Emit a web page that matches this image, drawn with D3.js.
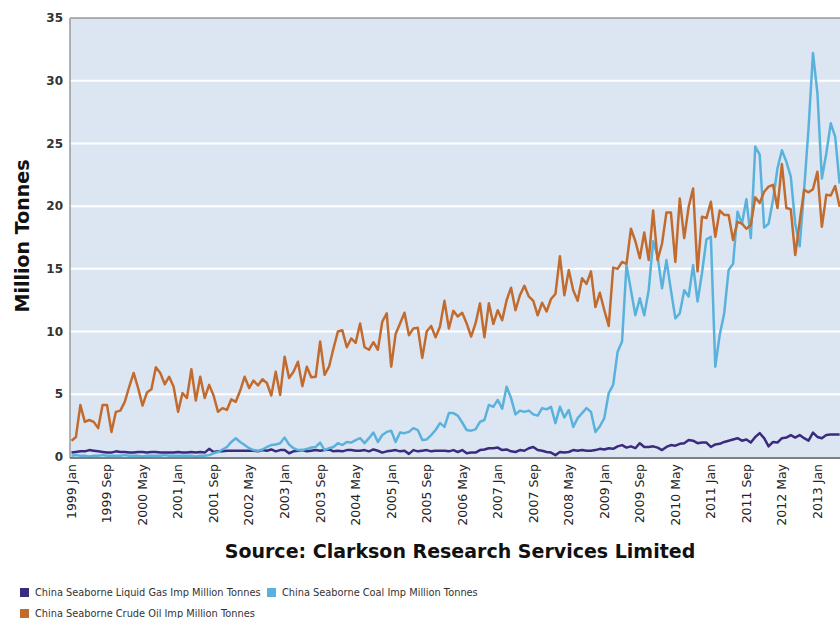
<!DOCTYPE html>
<html lang="en">
<head>
<meta charset="UTF-8">
<title>China Seaborne Imports</title>
<script src="https://d3js.org/d3.v7.min.js"></script>
<style>
    body { margin: 0; background: #fff; }
    svg { display: block; font-family: "DejaVu Sans", Verdana, sans-serif; }
</style>
</head>
<body>
<div id="chart"></div>
<script>
    // Serier, million tonnes pr. måned fra 1999 Jan
    const liquidGas = [
        0.35, 0.4, 0.45, 0.45, 0.55, 0.5, 0.45, 0.4, 0.35, 0.35, 0.45, 0.4, 0.4, 0.35, 0.35, 0.4, 0.4, 0.35, 0.4, 0.4,
        0.35, 0.35, 0.35, 0.35, 0.4, 0.35, 0.35, 0.4, 0.35, 0.4, 0.35, 0.65, 0.4, 0.45, 0.45, 0.5, 0.5, 0.5, 0.5, 0.5,
        0.5, 0.5, 0.45, 0.55, 0.5, 0.6, 0.45, 0.55, 0.55, 0.3, 0.45, 0.5, 0.55, 0.45, 0.5, 0.55, 0.5, 0.55, 0.6, 0.45,
        0.5, 0.45, 0.55, 0.55, 0.5, 0.5, 0.55, 0.45, 0.6, 0.5, 0.35, 0.45, 0.5, 0.55, 0.45, 0.5, 0.25, 0.55, 0.45, 0.5,
        0.55, 0.45, 0.5, 0.5, 0.5, 0.45, 0.55, 0.4, 0.55, 0.3, 0.35, 0.35, 0.55, 0.6, 0.7, 0.7, 0.75, 0.55, 0.6, 0.45,
        0.4, 0.55, 0.5, 0.7, 0.8, 0.55, 0.5, 0.4, 0.35, 0.15, 0.4, 0.35, 0.4, 0.55, 0.5, 0.55, 0.5, 0.5, 0.55, 0.65,
        0.6, 0.7, 0.65, 0.85, 0.95, 0.75, 0.85, 0.7, 1.1, 0.8, 0.8, 0.85, 0.75, 0.55, 0.8, 0.95, 0.9, 1.05, 1.1, 1.35,
        1.3, 1.1, 1.15, 1.15, 0.8, 1.0, 1.05, 1.2, 1.3, 1.4, 1.5, 1.3, 1.4, 1.15, 1.6, 1.9, 1.5, 0.85, 1.2, 1.15,
        1.5, 1.55, 1.75, 1.55, 1.75, 1.5, 1.3, 1.95, 1.6, 1.5, 1.75, 1.8, 1.8, 1.8
    ];
    const coal = [
        0.1, 0.15, 0.1, 0.1, 0.05, 0.1, 0.1, 0.15, 0.1, 0.1, 0.1, 0.1, 0.15, 0.1, 0.1, 0.1, 0.05, 0.1, 0.1, 0.1,
        0.1, 0.15, 0.1, 0.1, 0.1, 0.1, 0.1, 0.1, 0.05, 0.1, 0.1, 0.15, 0.3, 0.4, 0.6, 0.8, 1.2, 1.5, 1.2, 0.95,
        0.7, 0.55, 0.5, 0.6, 0.8, 0.95, 1.0, 1.1, 1.55, 1.0, 0.7, 0.55, 0.55, 0.65, 0.75, 0.8, 1.15, 0.55, 0.7, 0.8,
        1.1, 0.95, 1.2, 1.15, 1.35, 1.5, 1.1, 1.5, 1.95, 1.2, 1.75, 2.0, 2.1, 1.2, 1.95, 1.9, 2.0, 2.3, 2.15, 1.35,
        1.4, 1.75, 2.15, 2.7, 2.4, 3.5, 3.5, 3.3, 2.75, 2.15, 2.1, 2.2, 2.8, 2.95, 4.15, 4.0, 4.55, 3.85, 5.6, 4.7,
        3.4, 3.7, 3.6, 3.7, 3.4, 3.3, 3.9, 3.8, 4.0, 2.7, 4.0, 3.15, 3.75, 2.4, 3.1, 3.5, 3.9, 3.6, 2.0, 2.45,
        3.1, 5.1, 5.75, 8.4, 9.2, 15.3, 13.3, 11.3, 12.65, 11.3, 13.3, 17.2, 16.0, 13.45, 15.7, 13.3, 11.05, 11.45, 13.3, 12.8,
        15.3, 12.4, 14.65, 17.35, 17.55, 7.2, 9.75, 11.45, 14.9, 15.4, 19.55, 18.6, 20.55, 17.45, 24.75, 24.1, 18.3, 18.6, 20.5, 23.0,
        24.45, 23.55, 22.35, 18.6, 16.8, 21.3, 26.2, 32.2, 29.0, 22.2, 24.2, 26.6, 25.55, 21.8
    ];
    const crudeOil = [
        1.3, 1.6, 4.15, 2.8, 2.95, 2.8, 2.3, 4.15, 4.15, 2.0, 3.6, 3.7, 4.4, 5.6, 6.7, 5.5, 4.1, 5.15, 5.4, 7.15,
        6.7, 5.8, 6.4, 5.6, 3.6, 5.1, 4.7, 7.0, 4.5, 6.4, 4.7, 5.75, 4.9, 3.6, 3.9, 3.75, 4.6, 4.4, 5.3, 6.4,
        5.5, 6.1, 5.7, 6.2, 5.9, 4.9, 6.8, 4.95, 8.0, 6.3, 6.8, 7.6, 5.65, 7.2, 6.35, 6.4, 9.2, 6.55, 7.2, 8.65,
        10.0, 10.1, 8.75, 9.45, 9.1, 10.65, 8.75, 8.55, 9.15, 8.55, 10.8, 11.45, 7.2, 9.8, 10.65, 11.5, 9.7, 10.25, 10.3, 7.9,
        10.0, 10.45, 9.55, 10.4, 12.45, 10.25, 11.65, 11.2, 11.5, 10.65, 9.6, 10.65, 12.25, 9.55, 12.25, 10.6, 11.7, 10.9, 12.5, 13.5,
        11.7, 12.9, 13.65, 12.8, 12.45, 11.3, 12.3, 11.6, 12.6, 13.0, 16.0, 12.9, 14.9, 13.3, 12.45, 14.25, 13.8, 14.8, 11.95, 13.1,
        11.7, 10.45, 15.1, 15.0, 15.55, 15.4, 18.2, 17.2, 15.85, 17.9, 15.7, 19.65, 15.7, 17.0, 19.5, 19.5, 15.55, 20.6, 17.45, 19.95,
        21.4, 14.8, 19.15, 19.05, 20.35, 17.55, 19.65, 19.3, 19.3, 17.3, 18.75, 18.6, 18.2, 18.5, 20.7, 20.25, 21.15, 21.55, 21.7, 19.85,
        23.35, 19.85, 19.75, 16.1, 18.75, 21.3, 21.1, 21.35, 22.75, 18.35, 20.9, 20.85, 21.6, 19.95
    ];

    const monthNames = ['Jan', 'Feb', 'Mar', 'Apr', 'May', 'Jun', 'Jul', 'Aug', 'Sep', 'Oct', 'Nov', 'Dec'];
    const tickLabels = [
        '1999 Jan', '1999 Sep', '2000 May', '2001 Jan', '2001 Sep', '2002 May', '2003 Jan', '2003 Sep',
        '2004 May', '2005 Jan', '2005 Sep', '2006 May', '2007 Jan', '2007 Sep', '2008 May', '2009 Jan',
        '2009 Sep', '2010 May', '2011 Jan', '2011 Sep', '2012 May', '2013 Jan'
    ];
    const yTicks = [0, 5, 10, 15, 20, 25, 30, 35];
    const seriesNames = [
        'China Seaborne Liquid Gas Imp Million Tonnes',
        'China Seaborne Coal Imp Million Tonnes',
        'China Seaborne Crude Oil Imp Million Tonnes'
    ];
    const colors = ['#3b2a7d', '#5ab2dc', '#c26b2f'];

    // månedsetiketter (kategorier) for hele perioden
    const months = [];
    for (let yr = 1999; yr <= 2013; yr++) {
        monthNames.forEach(m => months.push(yr + ' ' + m));
    }
    const categories = months.slice(0, crudeOil.length);
    const series = [liquidGas, coal, crudeOil];

    const width = 840, height = 618;
    const plotLeft = 70, plotTop = 18, plotBottom = 457;

    const svg = d3.select('#chart').append('svg')
        .attr('width', width)
        .attr('height', height);

    const x = d3.scalePoint()
        .domain(categories)
        .range([71.5, 71.5 + (categories.length - 1) * 4.44]);

    const y = d3.scaleLinear()
        .domain([0, 35])
        .range([plotBottom, plotTop]);

    // baggrund for plotområdet
    svg.append('rect')
        .attr('x', plotLeft)
        .attr('y', plotTop)
        .attr('width', width - plotLeft)
        .attr('height', plotBottom - plotTop)
        .attr('fill', '#dce6f2');

    // hvide gitterlinjer
    svg.append('g')
        .selectAll('line')
        .data(yTicks.filter(t => t > 0 && t < 35))
        .join('line')
        .attr('x1', plotLeft)
        .attr('x2', width)
        .attr('y1', d => y(d))
        .attr('y2', d => y(d))
        .attr('stroke', '#ffffff')
        .attr('stroke-width', 2);

    // ramme: top og venstre grå, bund mørkere
    svg.append('line')
        .attr('x1', plotLeft).attr('x2', width)
        .attr('y1', plotTop).attr('y2', plotTop)
        .attr('stroke', '#9a9a9a').attr('stroke-width', 1.5);
    svg.append('line')
        .attr('x1', plotLeft).attr('x2', plotLeft)
        .attr('y1', plotTop).attr('y2', plotBottom + 1)
        .attr('stroke', '#9a9a9a').attr('stroke-width', 1.5);

    // linjerne
    const line = d3.line()
        .x((d, i) => x(categories[i]))
        .y(d => y(d));

    svg.append('g')
        .selectAll('path')
        .data(series)
        .join('path')
        .attr('d', d => line(d))
        .attr('fill', 'none')
        .attr('stroke', (d, i) => colors[i])
        .attr('stroke-width', 2.5)
        .attr('stroke-linejoin', 'round');

    svg.append('line')
        .attr('x1', plotLeft).attr('x2', width)
        .attr('y1', plotBottom + 1).attr('y2', plotBottom + 1)
        .attr('stroke', '#555555').attr('stroke-width', 1.5);

    // y-akse etiketter
    svg.append('g')
        .selectAll('text')
        .data(yTicks)
        .join('text')
        .text(d => d)
        .attr('x', 63)
        .attr('y', d => y(d))
        .attr('dy', '0.35em')
        .attr('text-anchor', 'end')
        .attr('font-size', '12px')
        .attr('font-weight', 'bold')
        .attr('fill', '#333');

    // x-akse etiketter, drejet
    svg.append('g')
        .selectAll('text')
        .data(tickLabels)
        .join('text')
        .text(d => d)
        .attr('transform', d => 'translate(' + x(d) + ',' + (plotBottom + 7) + ') rotate(-90)')
        .attr('dy', '0.35em')
        .attr('text-anchor', 'end')
        .attr('font-size', '12.5px')
        .attr('fill', '#222');

    // aksetitler
    svg.append('text')
        .text('Million Tonnes')
        .attr('transform', 'translate(29,236) rotate(-90)')
        .attr('text-anchor', 'middle')
        .attr('font-size', '19px')
        .attr('font-weight', 'bold')
        .attr('fill', '#111');

    svg.append('text')
        .text('Source: Clarkson Research Services Limited')
        .attr('x', 460)
        .attr('y', 558)
        .attr('text-anchor', 'middle')
        .attr('font-size', '19px')
        .attr('font-weight', 'bold')
        .attr('fill', '#111');

    // forklaring
    const legendPos = [[20, 588], [267, 588], [20, 609]];
    const legend = svg.append('g')
        .selectAll('g')
        .data(seriesNames)
        .join('g')
        .attr('transform', (d, i) => 'translate(' + legendPos[i][0] + ',' + legendPos[i][1] + ')');
    legend.append('rect')
        .attr('width', 9)
        .attr('height', 9)
        .attr('fill', (d, i) => colors[i]);
    legend.append('text')
        .text(d => d)
        .attr('x', 15)
        .attr('y', 8)
        .attr('font-size', '9.8px')
        .attr('fill', '#333');
</script>
</body>
</html>
